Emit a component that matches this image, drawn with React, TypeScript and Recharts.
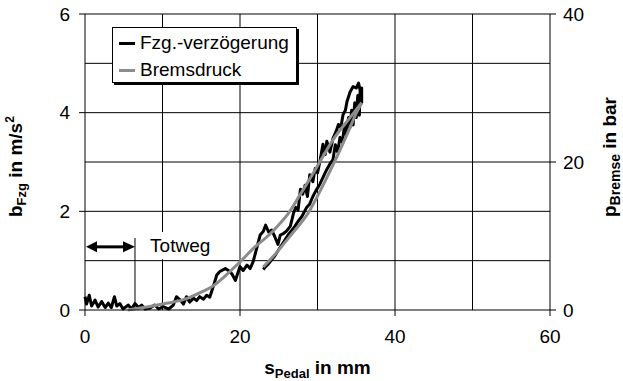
import { LineChart, Line, XAxis, YAxis, ReferenceLine, ReferenceArea, Legend, Label } from "recharts"

const FONT = '"Liberation Sans", Arial, Helvetica, sans-serif'

// axis ticks and grid values
const sTicks = [0, 20, 40, 60]
const bTicks = [0, 2, 4, 6]
const pTicks = [0, 20, 40]
const sGrid = [20, 30, 40, 50]
const bGrid = [1, 2, 3, 4, 5, 6]

// Fzg.-verzögerung, pedal pressed (s in mm, b in m/s²)
const fzgApply = [
  [0, 0.27], [0.2, 0.12], [0.55, 0.3], [0.85, 0.08], [1.3, 0.2], [1.7, 0.06], [2.15, 0.17], [2.6, 0.05],
  [3.0, 0.14], [3.4, 0.05], [3.8, 0.27], [4.1, 0.08], [4.5, 0.13], [4.9, 0.02], [5.6, 0.1], [6.0, 0.02],
  [6.45, 0.13], [6.9, 0.05], [7.3, 0.1], [7.75, 0.02], [8.4, 0.04], [9.0, 0.1], [9.5, 0.02], [10.1, 0.07],
  [10.8, 0.02], [11.4, 0.1], [11.8, 0.27], [12.3, 0.2], [12.7, 0.12], [13.1, 0.27], [13.5, 0.16], [14.0, 0.24],
  [14.4, 0.19], [14.8, 0.27], [15.3, 0.22], [15.7, 0.3], [16.1, 0.26], [16.6, 0.5], [17.0, 0.71], [17.4, 0.78],
  [18.1, 0.84], [18.7, 0.78], [19.0, 0.72], [19.4, 0.6], [20.0, 0.88], [20.4, 0.8], [20.9, 0.91], [21.3, 0.84],
  [21.7, 0.98], [22.2, 1.28], [22.6, 1.52], [23.0, 1.59], [23.3, 1.72], [23.7, 1.58], [24.1, 1.62], [24.5, 1.48],
  [24.9, 1.33], [25.2, 1.52], [25.6, 1.55], [26.0, 1.6], [26.5, 1.7], [26.9, 1.96], [27.2, 2.08], [27.5, 2.03],
  [27.8, 2.45], [28.1, 2.35], [28.4, 2.53], [28.7, 2.3], [29.0, 2.74], [29.4, 2.6], [29.7, 2.87], [30.0, 2.78],
  [30.3, 3.0], [30.7, 3.36], [31.0, 3.15], [31.2, 3.42], [31.6, 3.2], [32.0, 3.48], [32.4, 3.62], [32.7, 3.76],
  [33.0, 3.7], [33.3, 3.96], [33.6, 4.05], [33.8, 4.22], [34.2, 4.42], [34.6, 4.53], [35.0, 4.5], [35.3, 4.6],
  [35.5, 4.45], [35.7, 4.5],
]

// Fzg.-verzögerung, pedal released
const fzgRelease = [
  [35.7, 4.2], [35.5, 4.45], [35.4, 3.95], [35.2, 4.35], [35.0, 3.9], [34.8, 4.2], [34.6, 3.75], [34.4, 4.05],
  [34.2, 3.7], [34.0, 3.9], [33.7, 3.55], [33.5, 3.75], [33.2, 3.4], [32.9, 3.5], [32.6, 3.2], [32.3, 3.35],
  [32.0, 3.05], [31.6, 2.96], [31.2, 2.85], [30.8, 2.72], [30.3, 2.55], [29.8, 2.42], [29.4, 2.3], [29.0, 2.15],
  [28.6, 2.08], [28.0, 1.9], [27.5, 1.8], [27.1, 1.7], [26.6, 1.6], [26.2, 1.52], [25.8, 1.42], [25.4, 1.32],
  [24.9, 1.2], [24.5, 1.1], [24.1, 1.02], [23.7, 0.94], [23.3, 0.88], [23.0, 0.82],
]

// Bremsdruck (s in mm, p in bar)
const druckApply = [
  [5.5, 0], [8, 0.4], [10.5, 0.9], [12.7, 1.4], [14.8, 2.3], [16.6, 3.3], [18.3, 4.8], [20, 6.5],
  [21.9, 8.5], [23.7, 10.1], [24.9, 11.4], [26.2, 13.0], [27.7, 15.5], [29.9, 19.3], [32, 23.0], [34.2, 26.0],
  [35.7, 28.0],
]
const druckRelease = [
  [23.0, 5.8], [24.5, 7.5], [26.7, 10.3], [28.8, 13.1], [30.3, 16.0], [32.0, 19.6], [33.8, 23.7], [35.1, 26.8],
  [35.7, 28.0],
]

const fzgData = [...fzgApply, ...fzgRelease].map(([s, b]) => ({ s, b }))
const druckUp = druckApply.map(([s, p]) => ({ s, p }))
const druckDown = druckRelease.map(([s, p]) => ({ s, p }))

const GRID = "#000"

function ArrowShape(props: any) {
  const { x1, y1, x2, y2 } = props
  const h = 12
  const w = 5.5
  return (
    <g>
      <line x1={x1 + h - 1} y1={y1} x2={x2 - h + 1} y2={y2} stroke="#000" strokeWidth={3} />
      <polygon points={`${x1 + 1},${y1} ${x1 + h},${y1 - w} ${x1 + h},${y1 + w}`} fill="#000" />
      <polygon points={`${x2},${y2} ${x2 - h},${y2 - w} ${x2 - h},${y2 + w}`} fill="#000" />
    </g>
  )
}

function LegendBox() {
  const row = (top: number, color: string, text: string) => (
    <div style={{ position: "absolute", left: 0, top, height: 22, display: "flex", alignItems: "center" }}>
      <div style={{ width: 16, height: 3, background: color, marginLeft: 6, marginRight: 5 }} />
      <span style={{ fontSize: 19, fontFamily: FONT, color: "#000", whiteSpace: "nowrap" }}>{text}</span>
    </div>
  )
  return (
    <div
      style={{
        position: "relative",
        width: 183,
        height: 54,
        border: "1px solid #000",
        boxShadow: "2px 2px 0 #000",
        background: "#fff",
      }}
    >
      {row(4, "#000", "Fzg.-verzögerung")}
      {row(31, "#8c8c8c", "Bremsdruck")}
    </div>
  )
}

export default function App() {
  return (
    <div style={{ position: "absolute", left: 0, top: 0, width: 623, height: 381, background: "#fff", fontFamily: FONT }}>
      <LineChart width={623} height={381} margin={{ top: 14, right: 0, bottom: 0, left: 0 }}>
        <XAxis
          dataKey="s"
          type="number"
          domain={[0, 60]}
          ticks={sTicks}
          interval={0}
          height={71}
          stroke="#000"
          tickSize={6}
          tickMargin={14}
          tick={{ fill: "#000", fontSize: 19, fontFamily: FONT }}
        >
          <Label
            content={({ viewBox }: any) => {
              const cx = viewBox ? viewBox.x + viewBox.width / 2 : 317
              const y = viewBox ? viewBox.y + 64 : 374
              return (
                <text x={cx} y={y} textAnchor="middle" fontFamily={FONT} fontWeight="bold" fontSize={19} fill="#000">
                  <tspan>s</tspan>
                  <tspan fontSize={13} dy={4}>Pedal</tspan>
                  <tspan dy={-4}> in mm</tspan>
                </text>
              )
            }}
          />
        </XAxis>
        <YAxis
          yAxisId="left"
          type="number"
          domain={[0, 6]}
          ticks={bTicks}
          interval={0}
          width={85}
          stroke="#000"
          tickSize={6}
          tickMargin={9}
          tick={{ fill: "#000", fontSize: 19, fontFamily: FONT }}
        >
          <Label
            content={({ viewBox }: any) => {
              const x = viewBox ? viewBox.x + 22 : 22
              const y = 217
              return (
                <text x={x} y={y} transform={`rotate(-90, ${x}, ${y})`} textAnchor="start" fontFamily={FONT} fontWeight="bold" fontSize={19} fill="#000">
                  <tspan>b</tspan>
                  <tspan fontSize={13} dy={4}>Fzg</tspan>
                  <tspan dy={-4}> in m/s</tspan>
                  <tspan fontSize={12} dy={-8}>2</tspan>
                </text>
              )
            }}
          />
        </YAxis>
        <YAxis
          yAxisId="right"
          orientation="right"
          type="number"
          domain={[0, 40]}
          ticks={pTicks}
          interval={0}
          width={73}
          stroke="#000"
          tickSize={6}
          tickMargin={7}
          tick={{ fill: "#000", fontSize: 19, fontFamily: FONT }}
        >
          <Label
            content={({ viewBox }: any) => {
              const x = viewBox ? viewBox.x + 66 : 616
              const y = 217
              return (
                <text x={x} y={y} transform={`rotate(-90, ${x}, ${y})`} textAnchor="start" fontFamily={FONT} fontWeight="bold" fontSize={19} fill="#000">
                  <tspan>p</tspan>
                  <tspan fontSize={14} dy={4}>Bremse</tspan>
                  <tspan dy={-4}> in bar</tspan>
                </text>
              )
            }}
          />
        </YAxis>

        {/* grid */}
        {sGrid.map((v) => (
          <ReferenceLine key={`gx${v}`} yAxisId="left" x={v} stroke={GRID} strokeWidth={1} />
        ))}
        <ReferenceLine yAxisId="left" segment={[{ x: 10, y: 0 }, { x: 10, y: 1.03 }]} stroke={GRID} strokeWidth={1} />
        <ReferenceLine yAxisId="left" segment={[{ x: 10, y: 1.58 }, { x: 10, y: 6 }]} stroke={GRID} strokeWidth={1} />
        {bGrid.map((v) => (
          <ReferenceLine key={`gy${v}`} yAxisId="left" y={v} stroke={GRID} strokeWidth={1} />
        ))}

        {/* Totweg annotation */}
        <ReferenceLine yAxisId="left" segment={[{ x: 6.45, y: 0 }, { x: 6.45, y: 1.46 }]} stroke="#000" strokeWidth={1} />
        <ReferenceLine yAxisId="left" segment={[{ x: 0, y: 1.28 }, { x: 6.45, y: 1.28 }]} shape={ArrowShape} />
        <ReferenceArea
          yAxisId="left"
          x1={8.4}
          x2={17}
          y1={1.03}
          y2={1.58}
          fillOpacity={0}
          strokeOpacity={0}
          label={({ viewBox }: any) => (
            <text x={viewBox ? viewBox.x : 150} y={252} fontFamily={FONT} fontSize={19} fill="#000">
              Totweg
            </text>
          )}
        />

        <Line
          yAxisId="left"
          data={fzgData}
          dataKey="b"
          type="linear"
          stroke="#000"
          strokeWidth={3}
          strokeLinejoin="round"
          dot={false}
          activeDot={false}
          isAnimationActive={false}
        />
        <Line
          yAxisId="right"
          data={druckUp}
          dataKey="p"
          type="monotone"
          stroke="#8c8c8c"
          strokeWidth={3}
          dot={false}
          activeDot={false}
          isAnimationActive={false}
        />
        <Line
          yAxisId="right"
          data={druckDown}
          dataKey="p"
          type="monotone"
          stroke="#8c8c8c"
          strokeWidth={3}
          dot={false}
          activeDot={false}
          isAnimationActive={false}
        />
        <Legend
          layout="vertical"
          align="center"
          verticalAlign="middle"
          wrapperStyle={{ position: "absolute", top: 27, left: 112, width: "auto", height: "auto" }}
          content={() => <LegendBox />}
        />
      </LineChart>
    </div>
  )
}
